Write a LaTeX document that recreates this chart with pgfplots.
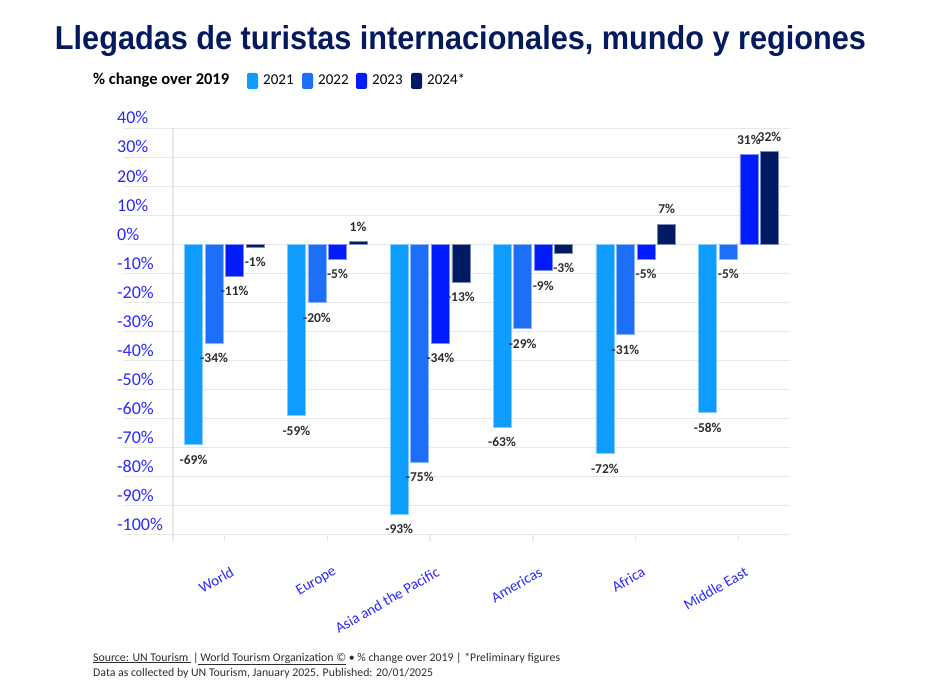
\documentclass[border=0pt]{standalone}
\usepackage{fontspec}
\setmainfont{Carlito}
\newfontfamily\titlefont{Liberation Sans}
\usepackage{graphicx}
\usepackage{pgfplots}
\usepackage{pgfplotstable}
\pgfplotsset{compat=1.18}

\definecolor{c21}{RGB}{14,156,255}
\definecolor{c22}{RGB}{30,111,247}
\definecolor{c23}{RGB}{0,28,250}
\definecolor{c24}{RGB}{0,26,100}
\definecolor{ticklab}{RGB}{40,40,255}
\definecolor{titlec}{RGB}{5,25,95}
\definecolor{gridc}{RGB}{232,232,232}
\definecolor{lab}{RGB}{45,45,45}

% % change over 2019, by region
\pgfplotstableread{
x y21 y22 y23 y24
0 -69 -34 -11 -1
1 -59 -20 -5 1
2 -93 -75 -34 -13
3 -63 -29 -9 -3
4 -72 -31 -5 7
5 -58 -5 31 32
}\data

\begin{document}
\begin{tikzpicture}[x=1pt,y=1pt]
\useasboundingbox (0,0) rectangle (933,681);

% title
\node[anchor=base, text=titlec] at (460.5,631)
  {\resizebox{811pt}{24pt}{\titlefont\bfseries Llegadas de turistas internacionales, mundo y regiones}};

% legend
\node[anchor=base west, inner sep=0, text=black] at (93,596)
  {\fontsize{16.5}{16.5}\selectfont\bfseries \% change over 2019};
\foreach \xx/\cc/\yy in {247/c21/2021, 302/c22/2022, 356/c23/2023, 411/c24/2024*}{
  \fill[\cc, rounded corners=2pt] (\xx,592) rectangle ++(11,16);
  \node[anchor=base west, inner sep=0, text=black] at (\xx+16,596)
    {\fontsize{15}{15}\selectfont \yy};
}

\begin{axis}[
  at={(123pt,146.3pt)}, anchor=south west,
  scale only axis, width=667pt, height=406.4pt,
  xmin=-0.986, xmax=5.5, ymin=-100, ymax=40,
  axis line style={draw=none},
  ymajorgrids, major grid style={gridc, line width=1.2pt},
  ytick={-100,-90,...,40},
  yticklabel={\pgfmathprintnumber[assume math mode=true]{\tick}\%},
  yticklabel style={anchor=south west, inner sep=0pt, yshift=4pt,
    text=ticklab, font=\fontsize{18}{18}\selectfont},
  ytick style={draw=none},
  xtick={0,...,5},
  xticklabels={World,Europe,Asia and the Pacific,Americas,Africa,Middle East},
  xticklabel style={rotate=30, anchor=east, inner sep=0pt, xshift=-8pt, yshift=-30pt,
    text=ticklab, font=\fontsize{15}{15}\selectfont},
  xtick pos=bottom, tick align=outside, major tick length=6pt,
  xtick style={gridc, line width=1.2pt},
  extra x ticks={-0.5}, extra x tick labels={},
  extra x tick style={grid=major},
  ybar=0pt, bar width=0.175,
  clip=false,
  nodes near coords={\pgfmathprintnumber[assume math mode=true]{\pgfplotspointmeta}\%},
  every node near coord/.append style={text=lab, inner xsep=0pt, inner ysep=10pt,
    font=\fontsize{13.5}{13.5}\selectfont\bfseries},
]
\addplot[fill=c21, draw=c21!50!white, line width=0.6pt, bar shift=-0.3] table[x=x, y=y21] {\data};
\addplot[fill=c22, draw=c22!50!white, line width=0.6pt, bar shift=-0.1] table[x=x, y=y22] {\data};
\addplot[fill=c23, draw=c23!50!white, line width=0.6pt, bar shift=0.1] table[x=x, y=y23] {\data};
\addplot[fill=c24, draw=c24!50!white, line width=0.6pt, bar shift=0.3] table[x=x, y=y24] {\data};
\end{axis}

% footer
\node[anchor=base west, inner sep=0, text=lab] at (93,20)
  {\fontsize{11.8}{11.8}\selectfont \underline{Source: UN Tourism }\,|\underline{\,World Tourism Organization ©} • \% change over 2019 | *Preliminary figures};
\node[anchor=base west, inner sep=0, text=lab] at (93,5)
  {\fontsize{11.8}{11.8}\selectfont Data as collected by UN Tourism, January 2025. Published: 20/01/2025};
\end{tikzpicture}
\end{document}
